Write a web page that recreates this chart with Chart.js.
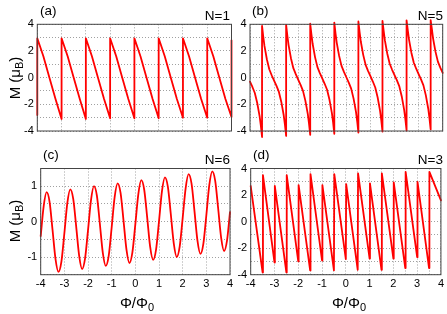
<!DOCTYPE html>
<html><head><meta charset="utf-8">
<script src="https://cdn.jsdelivr.net/npm/chart.js@4"></script>
<style>
html,body{margin:0;padding:0;background:#fff;}
#wrap{position:relative;width:447px;height:314px;overflow:hidden;font-family:"Liberation Sans",Arial,Helvetica,sans-serif;color:#000;}
canvas{position:absolute;left:0;top:0;}
.t{position:absolute;white-space:nowrap;line-height:1;font-size:13.5px;}
.c{position:absolute;white-space:nowrap;line-height:1;font-size:15px;}
.s{font-size:11px;vertical-align:-3px;}
</style></head><body>
<div id="wrap">
<canvas id="ca" width="447" height="314"></canvas>
<canvas id="cb" width="447" height="314"></canvas>
<canvas id="cc" width="447" height="314"></canvas>
<canvas id="cd" width="447" height="314"></canvas>
<div class="t" style="left:40px;top:4px">(a)</div>
<div class="t" style="right:217px;top:9px">N=1</div>
<div class="t" style="left:252px;top:4px">(b)</div>
<div class="t" style="right:4px;top:9px">N=5</div>
<div class="t" style="left:43px;top:147.5px">(c)</div>
<div class="t" style="right:217px;top:153px">N=6</div>
<div class="t" style="left:253px;top:147.5px">(d)</div>
<div class="t" style="right:4px;top:153px">N=3</div>
<div class="c" style="left:16px;top:78px;transform:translate(-50%,-50%) rotate(-90deg)">M (μ<span class="s">B</span>)</div>
<div class="c" style="left:16px;top:221px;transform:translate(-50%,-50%) rotate(-90deg)">M (μ<span class="s">B</span>)</div>
<div class="c" style="left:137px;top:304px;transform:translate(-50%,-50%)">Φ/Φ<span class="s">0</span></div>
<div class="c" style="left:349px;top:304px;transform:translate(-50%,-50%)">Φ/Φ<span class="s">0</span></div>
</div>
<script>
// Panel (a): N=1
const aX = [-4,-4,-3.75,-3.5,-3.25,-3, -3,-2.75,-2.5,-2.25,-2, -2,-1.75,-1.5,-1.25,-1, -1,-0.75,-0.5,-0.25,0, 0,0.25,0.5,0.75,1, 1,1.25,1.5,1.75,2, 2,2.25,2.5,2.75,3, 3,3.25,3.5,3.75,4, 4];
const aY = [-2.8,2.95,1.6,0.0,-1.6,-3.1, 2.95,1.6,0.0,-1.6,-3.1, 2.95,1.6,0.0,-1.6,-3.05, 2.95,1.6,0.0,-1.6,-3.05, 2.95,1.6,0.0,-1.6,-3.05, 2.95,1.6,0.0,-1.6,-3.0, 2.95,1.6,0.0,-1.6,-3.0, 2.95,1.6,0.0,-1.6,-2.95, 2.8];

// Panel (b): N=5
const bX = [-4,-3.9,-3.8,-3.7,-3.6,-3.55,-3.5,
 -3.5,-3.45,-3.4,-3.3,-3.2,-3.1,-3.0,-2.9,-2.8,-2.7,-2.6,-2.55,-2.5,
 -2.5,-2.45,-2.4,-2.3,-2.2,-2.1,-2.0,-1.9,-1.8,-1.7,-1.6,-1.55,-1.5,
 -1.5,-1.45,-1.4,-1.3,-1.2,-1.1,-1.0,-0.9,-0.8,-0.7,-0.6,-0.55,-0.5,
 -0.5,-0.45,-0.4,-0.3,-0.2,-0.1,0.0,0.1,0.2,0.3,0.4,0.45,0.5,
 0.5,0.55,0.6,0.7,0.8,0.9,1.0,1.1,1.2,1.3,1.4,1.45,1.5,
 1.5,1.55,1.6,1.7,1.8,1.9,2.0,2.1,2.2,2.3,2.4,2.45,2.5,
 2.5,2.55,2.6,2.7,2.8,2.9,3.0,3.1,3.2,3.3,3.4,3.45,3.5,
 3.5,3.55,3.6,3.7,3.8,3.9,4.0];
const bY = [-0.30,-0.70,-1.15,-1.90,-2.90,-3.60,-4.45,
 3.88,3.08,2.38,1.38,0.63,0.18,-0.22,-0.62,-1.07,-1.82,-2.82,-3.52,-4.37,
 3.96,3.16,2.46,1.46,0.71,0.26,-0.14,-0.54,-0.99,-1.74,-2.74,-3.44,-4.29,
 4.04,3.24,2.54,1.54,0.79,0.34,-0.06,-0.46,-0.91,-1.66,-2.66,-3.36,-4.21,
 4.13,3.33,2.63,1.63,0.88,0.43,0.03,-0.37,-0.82,-1.57,-2.57,-3.27,-4.12,
 4.21,3.41,2.71,1.71,0.96,0.51,0.11,-0.29,-0.74,-1.49,-2.49,-3.19,-4.04,
 4.26,3.49,2.79,1.79,1.04,0.59,0.19,-0.21,-0.66,-1.41,-2.41,-3.11,-3.96,
 4.30,3.57,2.87,1.87,1.12,0.67,0.27,-0.13,-0.58,-1.33,-2.33,-3.03,-3.88,
 4.32,3.65,2.95,1.95,1.20,0.75,0.35];

// Panel (c): N=6
const cX = [-4,-3.875,-3.75,-3.625,-3.5,-3.375,-3.25,-3.125,
 -3,-2.875,-2.75,-2.625,-2.5,-2.375,-2.25,-2.125,
 -2,-1.875,-1.75,-1.625,-1.5,-1.375,-1.25,-1.125,
 -1,-0.875,-0.75,-0.625,-0.5,-0.375,-0.25,-0.125,
 0,0.125,0.25,0.375,0.5,0.625,0.75,0.875,
 1,1.125,1.25,1.375,1.5,1.625,1.75,1.875,
 2,2.125,2.25,2.375,2.5,2.625,2.75,2.875,
 3,3.125,3.25,3.375,3.5,3.625,3.75,3.875,
 4];
const cY = [-0.41,0.43,0.83,0.56,-0.23,-1.05,-1.42,-1.13,
 -0.33,0.52,0.91,0.64,-0.14,-0.96,-1.34,-1.04,
 -0.24,0.60,1.00,0.73,-0.06,-0.88,-1.25,-0.96,
 -0.16,0.69,1.08,0.81,0.03,-0.79,-1.17,-0.87,
 -0.07,0.77,1.17,0.90,0.12,-0.71,-1.08,-0.79,
 0.01,0.86,1.25,0.98,0.20,-0.62,-1.00,-0.70,
 0.10,0.94,1.34,1.07,0.29,-0.54,-0.91,-0.62,
 0.18,1.03,1.42,1.15,0.37,-0.45,-0.83,-0.53,
 0.27];

// Panel (d): N=3
const dX = [-4,-3.5,-3.485,-3.0,-2.985,-2.5,-2.485,-2.0,-1.985,-1.5,-1.485,-1.0,-0.985,-0.5,-0.485,0,0.015,0.5,0.515,1.0,1.015,1.5,1.515,2.0,2.015,2.5,2.515,3.0,3.015,3.5,3.515,4];
const dY = [2.68,-3.83,3.5,-3.08,2.68,-3.83,3.5,-3.0,2.75,-3.68,3.58,-2.93,2.75,-3.68,3.58,-2.83,2.83,-3.63,3.63,-2.78,2.88,-3.63,3.63,-2.78,2.95,-3.5,3.75,-2.68,3.0,-3.5,3.75,1.6];

const FONT = '"Liberation Sans", Arial, Helvetica, sans-serif';
const frame = {id:'frame', afterDraw(c){const a=c.chartArea, g=c.ctx; g.save(); g.strokeStyle='#444'; g.lineWidth=1; g.strokeRect(a.left,a.top,a.right-a.left,a.bottom-a.top); g.restore();}};

function panel(id, xs, ys, cfg){
  const YW = 30, XH = 18;
  const pts = xs.map((x,i)=>({x:x, y:ys[i]}));
  const gridOpt = {color:'#a0a0a0', lineWidth:1, drawTicks:false};
  const borderOpt = {display:false, dash:[1,2]};
  new Chart(document.getElementById(id), {
    type:'line',
    data:{datasets:[{data:pts, borderColor:'#ff0000', borderWidth:1.8, pointRadius:0, pointHoverRadius:0, fill:false, tension:0,
      cubicInterpolationMode: cfg.smooth ? 'monotone' : 'default', clip:false, borderJoinStyle:'round', borderCapStyle:'round'}]},
    options:{
      responsive:false, animation:false, devicePixelRatio:1, events:[],
      layout:{padding:{left:cfg.L-YW, top:cfg.T, right:447-cfg.R, bottom:314-cfg.B-XH}},
      plugins:{legend:{display:false}, tooltip:{enabled:false}},
      scales:{
        x:{type:'linear', min:-4, max:4, afterFit(s){s.height=XH;}, grid:gridOpt, border:borderOpt,
          ticks:{display:cfg.xLabels, stepSize:cfg.xStep, maxTicksLimit:100, autoSkip:false, maxRotation:0, padding:3, color:'#000', font:{family:FONT,size:11},
            callback:v=>Number.isInteger(v)?String(v):''}},
        y:{type:'linear', min:cfg.yMin, max:cfg.yMax, afterFit(s){s.width=YW;}, grid:gridOpt, border:borderOpt,
          ticks:{stepSize:cfg.yStep, maxTicksLimit:100, autoSkip:false, padding:3.5, color:'#000', font:{family:FONT,size:11},
            callback:v=>cfg.yLab(v)?String(v):''}}
      }
    },
    plugins:[frame]
  });
}
const even = v => Math.abs(v % 2) < 1e-9;
const integer = v => Number.isInteger(v);
panel('ca', aX, aY, {L:37.3, T:24.3, R:231.5, B:131, xStep:1, xLabels:false, yMin:-4, yMax:4, yStep:1, yLab:even});
panel('cb', bX, bY, {L:250, T:24.3, R:442.7, B:131, xStep:0.5, xLabels:false, yMin:-4, yMax:4, yStep:1, yLab:even});
panel('cc', cX, cY, {L:40.7, T:168.5, R:230, B:274.7, xStep:1, xLabels:true, yMin:-1.5, yMax:1.5, yStep:0.5, yLab:integer, smooth:true});
panel('cd', dX, dY, {L:250.7, T:168.5, R:442.7, B:274.7, xStep:0.5, xLabels:true, yMin:-4, yMax:4, yStep:1, yLab:even});
</script>
</body></html>
